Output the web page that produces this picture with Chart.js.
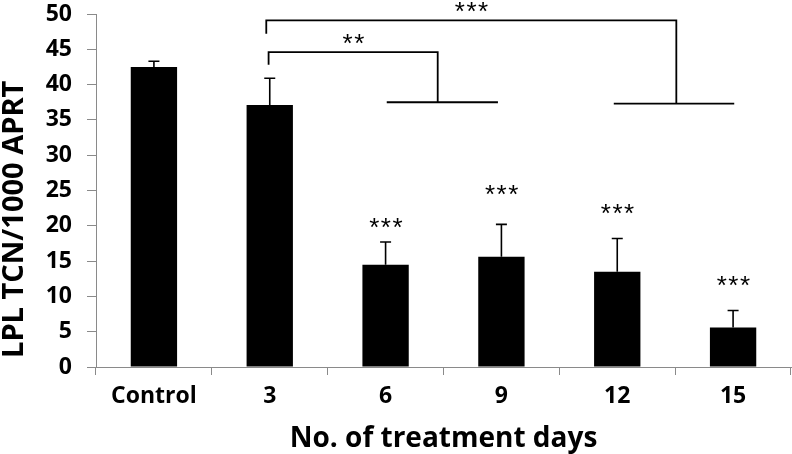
<!DOCTYPE html>
<html>
<head>
<meta charset="utf-8">
<script src="https://cdn.jsdelivr.net/npm/chart.js@4/dist/chart.umd.min.js"></script>
<style>
  html, body { margin: 0; padding: 0; background: #fff; }
  #wrap { width: 792px; height: 454px; position: relative; }
</style>
</head>
<body>
<div id="wrap"><canvas id="c" width="792" height="454"></canvas></div>
<script>
// ---- data ----
const categories = ['Control', '3', '6', '9', '12', '15'];
const means = [42.5, 37.1, 14.5, 15.6, 13.5, 5.6];
const errors = [0.8, 3.8, 3.2, 4.6, 4.7, 2.4];
const starLabels = ['', '', '***', '***', '***', '***'];
const starY = [null, null, 20.4, 25.2, 22.4, 12.2];

// significance brackets (category index / value units)
const bracketLabels = ['**', '***'];
const bracketTop = [44.6, 49.1];
const bracketLeftX = [0.99, 0.97];
const bracketLeftDrop = [42.8, 47.2];
const bracketRightX = [2.45, 4.51];
const bracketBase = [37.5, 37.3];
const bracketBaseFrom = [2.01, 3.97];
const bracketBaseTo = [2.97, 5.01];
const bracketLabelY = [46.6, 51.1];

const yTitle = 'LPL TCN/1000 APRT';
const xTitle = 'No. of treatment days';

const axisGray = '#8a8a8a';

const annotPlugin = {
  id: 'annot',
  afterDraw(chart) {
    const ctx = chart.ctx;
    const xs = chart.scales.x, ys = chart.scales.y;
    ctx.save();
    // error bars (upper only)
    ctx.strokeStyle = '#000';
    ctx.lineWidth = 1.6;
    for (let i = 0; i < means.length; i++) {
      const x = xs.getPixelForValue(i);
      const y0 = ys.getPixelForValue(means[i]);
      const y1 = ys.getPixelForValue(means[i] + errors[i]);
      ctx.beginPath();
      ctx.moveTo(x, y0); ctx.lineTo(x, y1);
      ctx.moveTo(x - 5.5, y1); ctx.lineTo(x + 5.5, y1);
      ctx.stroke();
    }
    // stars above bars
    ctx.fillStyle = '#000';
    ctx.font = '26px "Liberation Sans", Arial, sans-serif';
    ctx.textAlign = 'center';
    ctx.textBaseline = 'alphabetic';
    if ('letterSpacing' in ctx) ctx.letterSpacing = '1.5px';
    for (let i = 0; i < starLabels.length; i++) {
      if (!starLabels[i]) continue;
      const x = xs.getPixelForValue(i);
      const y = ys.getPixelForValue(starY[i]);
      ctx.fillText(starLabels[i], x + 1, y + 13.5);
    }
    // brackets
    ctx.lineWidth = 1.8;
    for (let b = 0; b < bracketLabels.length; b++) {
      const xl = xs.getPixelForValue(bracketLeftX[b]);
      const xr = xs.getPixelForValue(bracketRightX[b]);
      const yt = ys.getPixelForValue(bracketTop[b]);
      const yl = ys.getPixelForValue(bracketLeftDrop[b]);
      const yb = ys.getPixelForValue(bracketBase[b]);
      const xb0 = xs.getPixelForValue(bracketBaseFrom[b]);
      const xb1 = xs.getPixelForValue(bracketBaseTo[b]);
      ctx.beginPath();
      ctx.moveTo(xl, yl); ctx.lineTo(xl, yt); ctx.lineTo(xr, yt); ctx.lineTo(xr, yb);
      ctx.moveTo(xb0, yb); ctx.lineTo(xb1, yb);
      ctx.stroke();
      const yTxt = ys.getPixelForValue(bracketLabelY[b]);
      ctx.fillText(bracketLabels[b], (xl + xr) / 2 + 1, yTxt + 13.5);
    }
    if ('letterSpacing' in ctx) ctx.letterSpacing = '0px';
    // y axis title
    ctx.font = 'bold 29px "Open Sans", sans-serif';
    ctx.textAlign = 'left';
    ctx.textBaseline = 'middle';
    ctx.translate(15, chart.chartArea.bottom - 9);
    ctx.rotate(-Math.PI / 2);
    ctx.fillText(yTitle, 0, 0);
    ctx.restore();
  }
};

new Chart(document.getElementById('c'), {
  type: 'bar',
  data: {
    labels: categories,
    datasets: [{
      data: means,
      backgroundColor: '#000',
      borderWidth: 0,
      barPercentage: 0.4,
      categoryPercentage: 1.0
    }]
  },
  options: {
    responsive: false,
    animation: false,
    devicePixelRatio: 1,
    layout: { padding: { top: 14, right: 1, bottom: 0, left: 0 } },
    plugins: { legend: { display: false }, tooltip: { enabled: false } },
    scales: {
      x: {
        afterFit(scale) { scale.height = 87; scale.paddingLeft = 0; scale.paddingRight = 0; },
        grid: { display: true, drawOnChartArea: false, offset: true, tickLength: 8, color: axisGray, lineWidth: 1 },
        border: { display: true, color: axisGray, width: 1 },
        ticks: { color: '#000', padding: 8, font: { family: '"Open Sans", sans-serif', size: 23, weight: 'bold' } },
        title: { display: true, text: xTitle, color: '#000', padding: { top: 0, bottom: 1 },
                 font: { family: '"Open Sans", sans-serif', size: 28, weight: 'bold', lineHeight: 1 } }
      },
      y: {
        min: 0, max: 50,
        afterFit(scale) { scale.width = 96; scale.paddingTop = 0; scale.paddingBottom = 0; },
        grid: { display: true, drawOnChartArea: false, tickLength: 9, color: axisGray, lineWidth: 1 },
        border: { display: true, color: axisGray, width: 1 },
        ticks: { stepSize: 5, color: '#000', padding: 15, font: { family: '"Open Sans", sans-serif', size: 23, weight: 'bold' } },
        title: { display: false }
      }
    }
  },
  plugins: [annotPlugin]
});
</script>
</body>
</html>
